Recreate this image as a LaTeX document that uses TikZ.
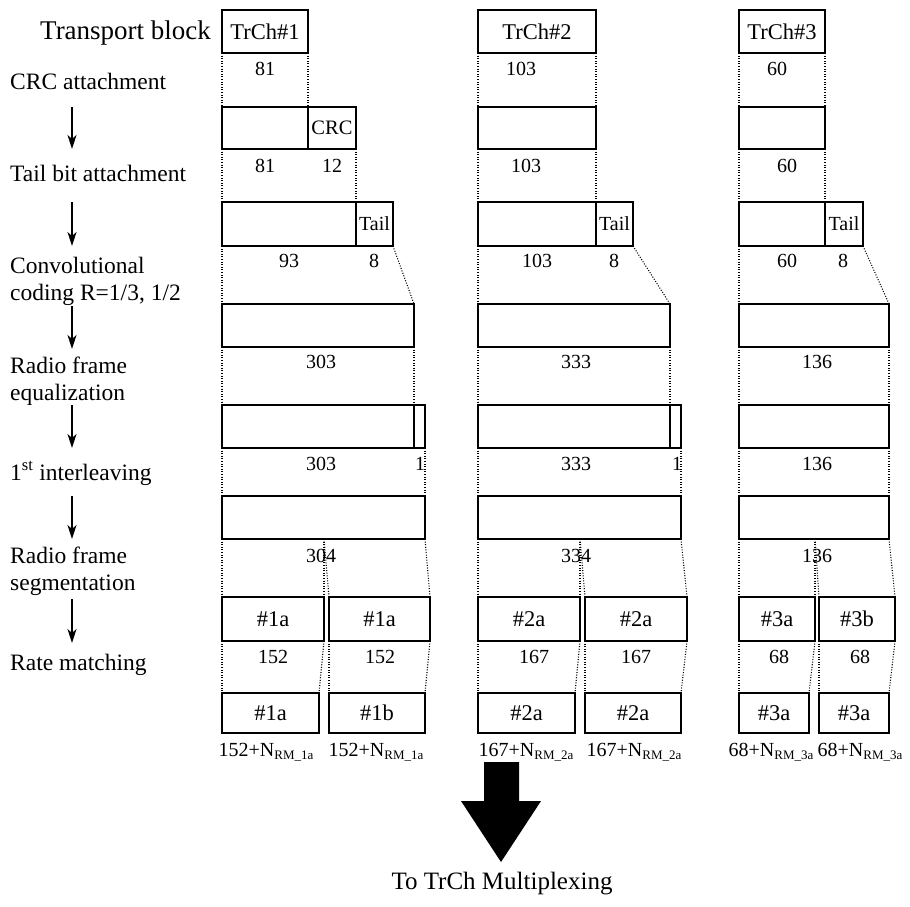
\documentclass[tikz,border=0pt]{standalone}
\usepackage{fontspec}
\setmainfont{Liberation Serif}
\usetikzlibrary{arrows.meta}
\newcommand\bx[6]{\node[blk, minimum width={(#4-#2)*1pt}, minimum height={(#5-#3)*1pt}, anchor=north west] (#1) at (#2,#3) {#6};}
\newcommand\lb[4]{\node[num] (#1) at (#2,#3) {#4};}
\newcommand\sbs[1]{{\fontsize{13}{13}\selectfont\raisebox{-3.5pt}{#1}}}
\begin{document}
\begin{tikzpicture}[x=1pt,y=-1pt,
  blk/.style={draw, line width=1.8pt, inner sep=0pt, outer sep=0pt, font=\fontsize{22.5}{24}\selectfont},
  sm/.style={font=\fontsize{20.5}{22}\selectfont},
  num/.style={inner sep=0pt, anchor=base, font=\fontsize{20}{24}\selectfont},
  lab/.style={inner sep=0pt, align=left, font=\fontsize{23.5}{27}\selectfont},
  dl/.style={line width=1.1pt, dash pattern=on 1pt off 1.6pt},
  flow/.style={line width=1.4pt, -{Stealth[length=14pt,width=9pt,inset=4pt]}}]
\useasboundingbox (0,0) rectangle (910,907);

% ---------- column 1 ----------
\bx{a1}{222}{10}{308}{53}{TrCh\#1}
\bx{a2}{222}{107}{308}{149}{}
\node[blk, sm, minimum width=48pt, minimum height=42pt, anchor=north west] (a2c) at (308,107) {CRC};
\bx{a3}{222}{202}{356}{246}{}
\node[blk, font=\fontsize{20}{22}\selectfont, minimum width=37pt, minimum height=44pt, anchor=north west] (a3t) at (356,202) {Tail};
\bx{a4}{222}{304}{414}{347}{}
\bx{a5}{222}{405}{414}{448}{}
\bx{a5p}{414}{405}{425}{448}{}
\bx{a6}{222}{496}{425}{539}{}
\bx{a7l}{222}{597}{324}{641}{\#1a}
\bx{a7r}{329}{597}{430}{641}{\#1a}
\bx{a8l}{222}{693}{319}{733}{\#1a}
\bx{a8r}{329}{693}{425}{733}{\#1b}

% ---------- column 2 ----------
\bx{b1}{478}{10}{596}{53}{TrCh\#2}
\bx{b2}{478}{107}{596}{149}{}
\bx{b3}{478}{202}{596}{246}{}
\node[blk, font=\fontsize{20}{22}\selectfont, minimum width=37pt, minimum height=44pt, anchor=north west] (b3t) at (596,202) {Tail};
\bx{b4}{478}{304}{670}{347}{}
\bx{b5}{478}{405}{670}{448}{}
\bx{b5p}{670}{405}{681}{448}{}
\bx{b6}{478}{496}{681}{539}{}
\bx{b7l}{478}{597}{580}{641}{\#2a}
\bx{b7r}{585}{597}{687}{641}{\#2a}
\bx{b8l}{478}{693}{575}{733}{\#2a}
\bx{b8r}{585}{693}{681}{733}{\#2a}

% ---------- column 3 ----------
\bx{c1}{739}{10}{825}{53}{TrCh\#3}
\bx{c2}{739}{107}{825}{149}{}
\bx{c3}{739}{202}{825}{246}{}
\node[blk, font=\fontsize{20}{22}\selectfont, minimum width=38pt, minimum height=44pt, anchor=north west] (c3t) at (825,202) {Tail};
\bx{c4}{739}{304}{889}{347}{}
\bx{c5}{739}{405}{889}{448}{}
\bx{c6}{739}{496}{889}{539}{}
\bx{c7l}{739}{597}{815}{641}{\#3a}
\bx{c7r}{819}{597}{895}{641}{\#3b}
\bx{c8l}{739}{693}{809}{733}{\#3a}
\bx{c8r}{819}{693}{889}{733}{\#3a}

% split points
\coordinate (as) at (324,539);
\coordinate (bs) at (580,539);
\coordinate (cs) at (815,539);

% ---------- dotted guide lines ----------
\draw[dl] (a1.south west) -- (a2.north west);
\draw[dl] (a1.south east) -- (a2c.north west);
\draw[dl] (a2.south west) -- (a3.north west);
\draw[dl] (a2c.south east) -- (a3t.north west);
\draw[dl] (a3.south west) -- (a4.north west);
\draw[dl] (a3t.south east) -- (a4.north east);
\draw[dl] (a4.south west) -- (a5.north west);
\draw[dl] (a4.south east) -- (a5.north east);
\draw[dl] (a5.south west) -- (a6.north west);
\draw[dl] (a5p.south east) -- (a6.north east);
\draw[dl] (a6.south west) -- (a7l.north west);
\draw[dl] (as) -- (a7l.north east);
\draw[dl] (as) -- (a7r.north west);
\draw[dl] (a6.south east) -- (a7r.north east);
\draw[dl] (a7l.south west) -- (a8l.north west);
\draw[dl] (a7l.south east) -- (a8l.north east);
\draw[dl] (a7r.south west) -- (a8r.north west);
\draw[dl] (a7r.south east) -- (a8r.north east);

\draw[dl] (b1.south west) -- (b2.north west);
\draw[dl] (b1.south east) -- (b2.north east);
\draw[dl] (b2.south west) -- (b3.north west);
\draw[dl] (b2.south east) -- (b3t.north west);
\draw[dl] (b3.south west) -- (b4.north west);
\draw[dl] (b3t.south east) -- (b4.north east);
\draw[dl] (b4.south west) -- (b5.north west);
\draw[dl] (b4.south east) -- (b5.north east);
\draw[dl] (b5.south west) -- (b6.north west);
\draw[dl] (b5p.south east) -- (b6.north east);
\draw[dl] (b6.south west) -- (b7l.north west);
\draw[dl] (bs) -- (b7l.north east);
\draw[dl] (bs) -- (b7r.north west);
\draw[dl] (b6.south east) -- (b7r.north east);
\draw[dl] (b7l.south west) -- (b8l.north west);
\draw[dl] (b7l.south east) -- (b8l.north east);
\draw[dl] (b7r.south west) -- (b8r.north west);
\draw[dl] (b7r.south east) -- (b8r.north east);

\draw[dl] (c1.south west) -- (c2.north west);
\draw[dl] (c1.south east) -- (c2.north east);
\draw[dl] (c2.south west) -- (c3.north west);
\draw[dl] (c2.south east) -- (c3t.north west);
\draw[dl] (c3.south west) -- (c4.north west);
\draw[dl] (c3t.south east) -- (c4.north east);
\draw[dl] (c4.south west) -- (c5.north west);
\draw[dl] (c4.south east) -- (c5.north east);
\draw[dl] (c5.south west) -- (c6.north west);
\draw[dl] (c5.south east) -- (c6.north east);
\draw[dl] (c6.south west) -- (c7l.north west);
\draw[dl] (cs) -- (c7l.north east);
\draw[dl] (cs) -- (c7r.north west);
\draw[dl] (c6.south east) -- (c7r.north east);
\draw[dl] (c7l.south west) -- (c8l.north west);
\draw[dl] (c7l.south east) -- (c8l.north east);
\draw[dl] (c7r.south west) -- (c8r.north west);
\draw[dl] (c7r.south east) -- (c8r.north east);

% ---------- size labels ----------
\lb{n11}{265}{75}{81}
\lb{n21}{521}{75}{103}
\lb{n31}{777}{75}{60}
\lb{n12}{265}{172}{81}
\lb{n12c}{332}{172}{12}
\lb{n22}{526}{172}{103}
\lb{n32}{787}{172}{60}
\lb{n13}{289}{267}{93}
\lb{n13t}{374}{267}{8}
\lb{n23}{537}{267}{103}
\lb{n23t}{614}{267}{8}
\lb{n33}{787}{267}{60}
\lb{n33t}{843}{267}{8}
\lb{n14}{321}{368}{303}
\lb{n24}{576}{368}{333}
\lb{n34}{817}{368}{136}
\lb{n15}{321}{470}{303}
\lb{n15p}{420}{470}{1}
\lb{n25}{576}{470}{333}
\lb{n25p}{677}{470}{1}
\lb{n35}{817}{470}{136}
\lb{n16}{321}{562}{304}
\lb{n26}{576}{562}{334}
\lb{n36}{817}{562}{136}
\lb{n17l}{273}{663}{152}
\lb{n17r}{380}{663}{152}
\lb{n27l}{534}{663}{167}
\lb{n27r}{636}{663}{167}
\lb{n37l}{779}{663}{68}
\lb{n37r}{860}{663}{68}
\lb{n18l}{266}{756}{152+N\sbs{RM\_1a}}
\lb{n18r}{376}{756}{152+N\sbs{RM\_1a}}
\lb{n28l}{526}{756}{167+N\sbs{RM\_2a}}
\lb{n28r}{634}{756}{167+N\sbs{RM\_2a}}
\lb{n38l}{771}{756}{68+N\sbs{RM\_3a}}
\lb{n38r}{860}{756}{68+N\sbs{RM\_3a}}

% ---------- left step labels ----------
\node[inner sep=0pt, anchor=base west, font=\fontsize{27}{30}\selectfont] (tb) at (40,40) {Transport block};
\node[lab, anchor=base west] (s1) at (10,89) {CRC attachment};
\node[lab, anchor=base west] (s2) at (10,181) {Tail bit attachment};
\node[lab, anchor=west] (s3) at (10,281) {Convolutional\\coding R=1/3, 1/2};
\node[lab, anchor=west] (s4) at (10,381) {Radio frame\\equalization};
\node[lab, anchor=base west] (s5) at (10,480) {1\textsuperscript{st} interleaving};
\node[lab, anchor=west] (s6) at (10,571) {Radio frame\\segmentation};
\node[lab, anchor=base west] (s7) at (10,670) {Rate matching};

\coordinate (f1a) at (72,107); \coordinate (f1b) at (72,149);
\coordinate (f2a) at (72,202); \coordinate (f2b) at (72,246);
\coordinate (f3a) at (72,306); \coordinate (f3b) at (72,349);
\coordinate (f4a) at (72,405); \coordinate (f4b) at (72,448);
\coordinate (f5a) at (72,496); \coordinate (f5b) at (72,539);
\coordinate (f6a) at (72,599); \coordinate (f6b) at (72,643);
\draw[flow] (f1a) -- (f1b);
\draw[flow] (f2a) -- (f2b);
\draw[flow] (f3a) -- (f3b);
\draw[flow] (f4a) -- (f4b);
\draw[flow] (f5a) -- (f5b);
\draw[flow] (f6a) -- (f6b);

% ---------- big output arrow ----------
\fill (484,762) -- (519,762) -- (519,801) -- (541,801) -- (501,862) -- (461,801) -- (484,801) -- cycle;
\node[inner sep=0pt, anchor=base, font=\fontsize{25}{28}\selectfont] (out) at (502,889) {To TrCh Multiplexing};
\end{tikzpicture}
\end{document}
